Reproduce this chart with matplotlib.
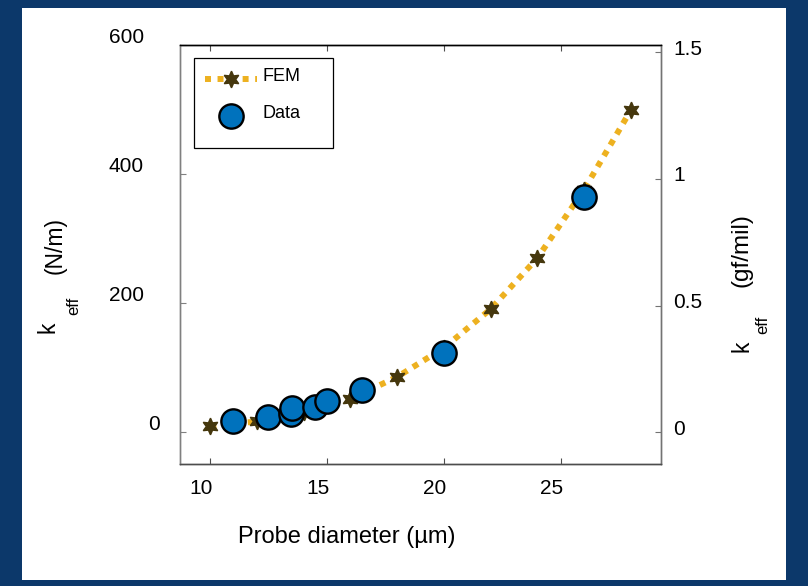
import numpy as np
import matplotlib
matplotlib.use("Agg")
import matplotlib.pyplot as plt
import matplotlib.transforms as mtransforms
from matplotlib.patches import Rectangle

plt.rcParams['font.family'] = ['Liberation Sans', 'DejaVu Sans']

# FEM simulation (stars + dotted line)
fem_d = [10, 12, 14, 16, 18, 20, 22, 24, 26, 28]
fem_k = [9, 16, 31, 51, 85, 130, 190, 269, 375, 498]

# measured data (circles)
data_d = [10.97, 12.45, 13.45, 13.5, 14.49, 14.99, 16.48, 20.0, 26.0]
data_k = [17.4, 22.6, 27.7, 36.4, 38.0, 48.2, 65.0, 121.5, 363.6]

xticks = [10, 15, 20, 25]
yticks_left = [0, 200, 400, 600]
yticks_right = [0, 0.5, 1, 1.5]
yticklabels_right = ['0', '0.5', '1', '1.5']

W, H = 808, 586
fig = plt.figure(figsize=(W / 100, H / 100), dpi=100, facecolor='#0c386a')
fig.patches.append(Rectangle((22 / W, 6 / H), 764 / W, 572 / H, transform=fig.transFigure,
                             facecolor='white', edgecolor='none', zorder=-1))

ax = fig.add_axes([180 / W, 1 - 464 / H, 481 / W, 419.3 / H])
star = (6, 1, 0)
ax.plot(fem_d, fem_k, color='#EDB120', lw=4.3, linestyle=(0, (1, 1.1)), dash_capstyle='butt',
        marker=star, ms=12, mfc='#45370d', mec='#45370d', label='FEM', zorder=2)
ax.plot(data_d, data_k, linestyle='none', marker='o', ms=17.5, mfc='#0072BD', mec='black',
        mew=1.7, label='Data', zorder=3)

ax.set_xlim(8.7, 29.3)
ax.set_ylim(-50, 600)
ax.set_xticks(xticks)
ax.set_xticklabels([str(t) for t in xticks])
ax.set_yticks(yticks_left)
ax.set_yticklabels([str(t) for t in yticks_left])

ax2 = ax.twinx()
ax2.set_ylim(-0.125, 1.53)
ax2.set_yticks(yticks_right)
ax2.set_yticklabels(yticklabels_right)

for a in (ax, ax2):
    a.spines['top'].set_color('black')
    a.spines['left'].set_color('0.5')
    a.spines['right'].set_color('0.45')
    a.spines['bottom'].set_color('0.3')
    for s in a.spines.values():
        s.set_linewidth(1.0)

ax.tick_params(axis='x', direction='in', top=True, length=4, color='0.3', labelsize=15, pad=11)
ax.tick_params(axis='y', direction='in', length=4, color='0.5', labelsize=15, pad=26)
ax2.tick_params(axis='y', direction='in', length=4, color='0.45', labelsize=15, pad=8.6)


def shift(labels, dx, dy):
    off = mtransforms.ScaledTranslation(dx * 0.72 / 72, dy * 0.72 / 72, fig.dpi_scale_trans)
    for lab in labels:
        lab.set_transform(lab.get_transform() + off)


shift(ax.get_xticklabels(), -9, 0)
ylabs = ax.get_yticklabels()
shift(ylabs[1:], 0, 9.5)
shift(ylabs[:1], 16, 9.5)
shift(ax2.get_yticklabels(), 0, 5)

ax.set_xlabel('Probe diameter (µm)', fontsize=17, va='center')
ax.xaxis.set_label_coords((346.5 - 180) / 481, (464 - 537) / 419.3)

# y labels built from pieces: big k, low "eff", then the unit
def ftext(x, y, s, size):
    fig.text(x / W, 1 - y / H, s, fontsize=size, rotation=90, ha='center', va='center')


ftext(47.5, 327.5, 'k', 16.5)
ftext(73.5, 306, 'eff', 12)
ftext(55, 245, '(N/m)', 16.5)
ftext(741.5, 346, 'k', 16.5)
ftext(763, 325, 'eff', 12)
ftext(742, 250, '(gf/mil)', 17.5)

leg = ax.legend(loc='upper left', bbox_to_anchor=((194 - 180) / 481, 1 - 13.3 / 419.3, 139 / 481, 0.0),
                mode='expand', borderaxespad=0, fontsize=13, fancybox=False, framealpha=1,
                edgecolor='black', handlelength=2.9, handleheight=2.3, handletextpad=0.3,
                labelspacing=0.3, borderpad=0.6)
leg.get_frame().set_linewidth(0.9)
shift(leg.get_texts(), 0, 9)

fig.savefig('out.png', dpi=100, facecolor=fig.get_facecolor())
